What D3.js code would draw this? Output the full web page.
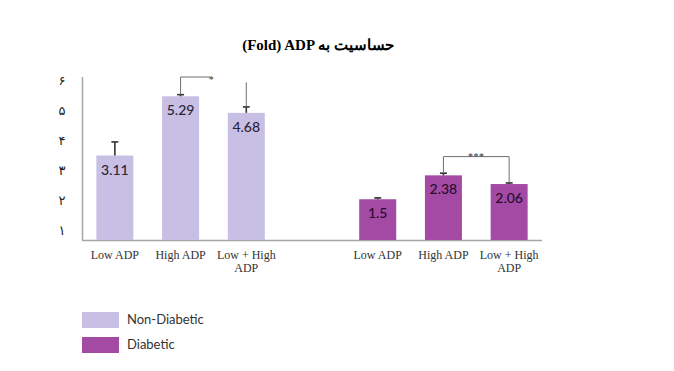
<!DOCTYPE html>
<html><head><meta charset="utf-8">
<script src="https://cdn.jsdelivr.net/npm/d3@7"></script>
<style>body{margin:0;background:#fff}svg{display:block}</style>
</head><body>
<script>
const categories = ["Low ADP", "High ADP", "Low + High\nADP"];
const groups = ["Non-Diabetic", "Diabetic"];
const nonDiabeticValues = [3.11, 5.29, 4.68];
const diabeticValues = [1.5, 2.38, 2.06];
const nonDiabeticErrors = [0.5, 0.06, 0.22];
const diabeticErrors = [0.05, 0.08, 0.04];
const yTickLabels = ["۱", "۲", "۳", "۴", "۵", "۶"];
const yTickValues = [1, 2, 3, 4, 5, 6];
const titleText = "(Fold) ADP حساسیت به";
const colors = ["#c8bfe4", "#a34aa5"];

const W = 674, H = 371;
const svg = d3.select("body").append("svg").attr("width", W).attr("height", H);

// slots: 3 bars, empty slot, 3 bars
const slots = ["g0c0","g0c1","g0c2","gap","g1c0","g1c1","g1c2"];
const x = d3.scaleBand().domain(slots).range([82, 542]).paddingInner(0.437).paddingOuter(0.2185);
const y = d3.scaleLinear().domain([0, 6]).range([240, 77]);
const yLab = d3.scaleLinear().domain([1, 6]).range([230, 80]);

const data = [];
[nonDiabeticValues, diabeticValues].forEach((vals, g) => {
  vals.forEach((v, i) => data.push({g, i, key: `g${g}c${i}`, v,
    e: (g === 0 ? nonDiabeticErrors : diabeticErrors)[i]}));
});

// title
svg.append("text").attr("x", 318).attr("y", 50).attr("text-anchor", "middle")
  .attr("direction", "ltr")
  .style("font-family", "'Liberation Serif','DejaVu Serif',serif").style("font-weight", "bold")
  .style("font-size", "15px").attr("fill", "#000").text(titleText);

// y tick labels
const yAxis = svg.append("g").attr("transform", "translate(66,0)")
  .call(d3.axisLeft(yLab).tickValues(yTickValues).tickSize(0).tickFormat((d, i) => yTickLabels[i]));
yAxis.select(".domain").remove();
yAxis.selectAll("text").style("font-family", "'DejaVu Sans',sans-serif").style("font-size", "13px")
  .attr("fill", "#222").attr("text-anchor", "middle").attr("x", -4);

// axis lines
svg.append("line").attr("x1", 82.5).attr("x2", 82.5).attr("y1", y(6)).attr("y2", y(0))
  .attr("stroke", "#a6a6a6").attr("stroke-width", 1.5);
svg.append("line").attr("x1", x.range()[0]).attr("x2", x.range()[1]).attr("y1", y(0) + 0.5).attr("y2", y(0) + 0.5)
  .attr("stroke", "#a6a6a6").attr("stroke-width", 1.5);

// bars
svg.selectAll("rect.bar").data(data).join("rect").attr("class", "bar")
  .attr("x", d => x(d.key)).attr("width", x.bandwidth())
  .attr("y", d => y(d.v)).attr("height", d => y(0) - y(d.v))
  .attr("fill", d => colors[d.g]);

// error bars
const cx = d => x(d.key) + x.bandwidth() / 2;
svg.selectAll("line.err").data(data).join("line").attr("class", "err")
  .attr("x1", cx).attr("x2", cx).attr("y1", d => y(d.v)).attr("y2", d => y(d.v + d.e))
  .attr("stroke", "#333").attr("stroke-width", 1.6);
svg.selectAll("line.cap").data(data).join("line").attr("class", "cap")
  .attr("x1", d => cx(d) - 3.5).attr("x2", d => cx(d) + 3.5)
  .attr("y1", d => y(d.v + d.e)).attr("y2", d => y(d.v + d.e))
  .attr("stroke", "#333").attr("stroke-width", 1.6);

// value labels
svg.selectAll("text.val").data(data).join("text").attr("class", "val")
  .attr("x", cx).attr("y", d => y(d.v) + 19).attr("text-anchor", "middle")
  .style("font-family", "Lato,'Open Sans',sans-serif").style("font-size", "14px").style("font-weight", "500")
  .attr("fill", d => d.g === 0 ? "#2a2438" : "#2a0c2c").text(d => d.v);

// category labels
svg.selectAll("text.cat").data(data).join("text").attr("class", "cat")
  .attr("x", cx).attr("y", 259).attr("text-anchor", "middle")
  .style("font-family", "'Liberation Serif',serif").style("font-size", "12px").attr("fill", "#333")
  .each(function(d) {
    const lines = categories[d.i].split("\n");
    d3.select(this).selectAll("tspan").data(lines).join("tspan")
      .attr("x", cx(d)).attr("dy", (l, k) => k === 0 ? 0 : 13).text(l => l);
  });

// significance brackets
const byKey = k => data.find(d => d.key === k);
const b1a = byKey("g0c1"), b1b = byKey("g0c2");
const starX1 = cx(b1a) + 0.45 * (cx(b1b) - cx(b1a));
svg.append("path").attr("fill", "none").attr("stroke", "#6f6f6f").attr("stroke-width", 1)
  .attr("d", `M${cx(b1a)},${y(b1a.v + b1a.e)}V${y(6)}H${starX1}`);
svg.append("path").attr("fill", "none").attr("stroke", "#6f6f6f").attr("stroke-width", 1)
  .attr("d", `M${cx(b1b)},${y(5.8)}V${y(b1b.v + b1b.e)}`);
svg.append("text").attr("x", starX1 + 1).attr("y", y(6) + 6).attr("text-anchor", "middle")
  .style("font-family", "'Liberation Serif',serif").style("font-size", "10px").attr("fill", "#333").text("*");

const b2a = byKey("g1c1"), b2b = byKey("g1c2");
svg.append("path").attr("fill", "none").attr("stroke", "#6f6f6f").attr("stroke-width", 1)
  .attr("d", `M${cx(b2a)},${y(b2a.v + b2a.e)}V${y(3.07)}H${cx(b2b)}V${y(b2b.v + b2b.e)}`);
svg.append("text").attr("x", (cx(b2a) + cx(b2b)) / 2).attr("y", y(3.07) + 3).attr("text-anchor", "middle")
  .style("font-family", "'Liberation Serif',serif").style("font-size", "10px").style("letter-spacing", "0.5px")
  .attr("fill", "#333").text("***");

// legend
const leg = svg.selectAll("g.leg").data(groups).join("g").attr("class", "leg")
  .attr("transform", (d, i) => `translate(82,${312 + i * 25})`);
leg.append("rect").attr("width", 37).attr("height", 16).attr("fill", (d, i) => colors[i]);
leg.append("text").attr("x", 45).attr("y", 12).text(d => d)
  .style("font-family", "Lato,'Open Sans',sans-serif").style("font-size", "13px").attr("fill", "#333");
</script>
</body></html>
